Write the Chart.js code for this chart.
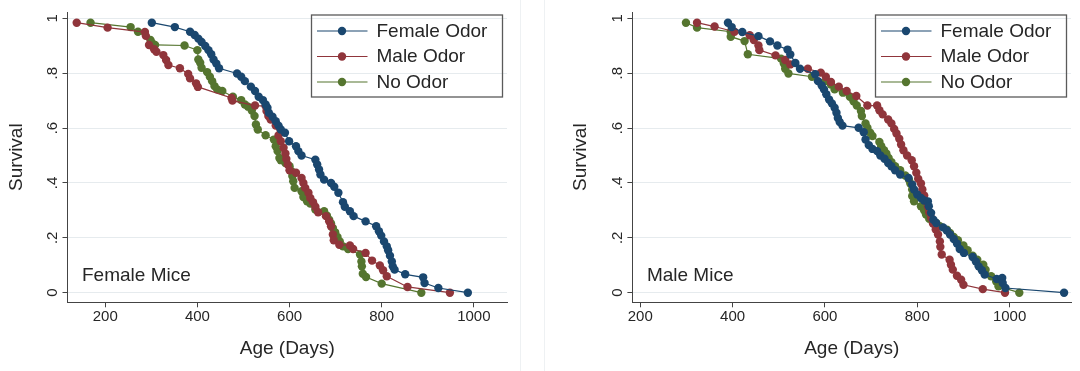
<!DOCTYPE html>
<html>
<head>
<meta charset="utf-8">
<script src="https://cdn.jsdelivr.net/npm/chart.js@4.4.1/dist/chart.umd.min.js"></script>
<style>
  body { margin: 0; background: #fff; }
  #wrap { position: relative; width: 1080px; height: 371px; overflow: hidden; }
  canvas { position: absolute; top: 0; }
  .sep { position: absolute; top: 0; width: 1px; height: 371px; background: #eef1f3; }
</style>
</head>
<body>
<div id="wrap">
  <canvas id="femaleMice" width="540" height="371" style="left:0"></canvas>
  <canvas id="maleMice" width="540" height="371" style="left:540px"></canvas>
  <div class="sep" style="left:520px"></div>
  <div class="sep" style="left:544px"></div>
</div>
<script>
// series names and colours (Stata s2color)
const seriesNames = ['Female Odor', 'Male Odor', 'No Odor'];
const seriesColors = ['#1a476f', '#90353b', '#55752f'];
const yTicks = [0, 0.2, 0.4, 0.6, 0.8, 1];

// Female mice: [age in days, survival]
const femFemaleOdor = [
  [301, .984], [351, .968], [384, .951], [394, .939], [402, .926], [409, .914], [417, .899],
  [424, .884], [430, .869], [435, .850], [441, .835], [447, .818], [486, .799], [495, .787],
  [503, .771], [516, .751], [525, .735], [533, .714], [542, .702], [548, .686], [552, .674],
  [555, .656], [563, .641], [570, .625], [576, .609], [581, .595], [590, .583], [599, .552],
  [614, .534], [619, .516], [626, .500], [656, .485], [660, .467], [664, .449], [667, .431],
  [675, .412], [690, .400], [697, .386], [706, .364], [716, .330], [720, .313], [731, .297],
  [739, .279], [765, .260], [788, .242], [794, .224], [799, .208], [805, .187], [811, .169],
  [814, .155], [818, .135], [822, .114], [824, .096], [828, .084], [851, .067], [890, .056],
  [893, .035], [923, .017], [987, 0]
];
const femMaleOdor = [
  [138, .984], [205, .966], [286, .950], [288, .936], [295, .903], [306, .887], [311, .878],
  [326, .866], [332, .848], [337, .830], [362, .818], [380, .797], [384, .781], [397, .763],
  [401, .750], [474, .710], [476, .700], [525, .682], [548, .680], [550, .662], [554, .644],
  [559, .631], [570, .609], [576, .573], [581, .552], [587, .528], [591, .507], [593, .487],
  [596, .467], [600, .446], [614, .437], [626, .418], [630, .400], [634, .382], [641, .364],
  [645, .345], [651, .330], [656, .313], [662, .293], [679, .279], [686, .260], [690, .242],
  [694, .212], [696, .191], [708, .175], [731, .172], [738, .159], [765, .145], [779, .117],
  [796, .099], [803, .082], [811, .060], [856, .021], [948, 0]
];
const femNoOdor = [
  [168, .984], [255, .968], [271, .951], [298, .921], [301, .911], [308, .903], [372, .901],
  [400, .884], [402, .850], [406, .838], [409, .820], [421, .804], [427, .787], [432, .771],
  [437, .753], [443, .741], [454, .735], [477, .714], [495, .702], [503, .686], [510, .678],
  [518, .664], [524, .644], [527, .613], [531, .595], [548, .574], [566, .558], [570, .534],
  [574, .516], [578, .491], [581, .483], [591, .473], [600, .461], [604, .443], [606, .425],
  [608, .406], [611, .382], [626, .370], [630, .349], [638, .333], [645, .325], [656, .303],
  [675, .297], [681, .281], [686, .266], [690, .252], [694, .236], [699, .220], [704, .203],
  [709, .187], [716, .169], [727, .159], [753, .139], [756, .114], [757, .096], [759, .069],
  [766, .057], [800, .033], [886, 0]
];

// Male mice: [age in days, survival]
const malFemaleOdor = [
  [390, .984], [398, .968], [421, .950], [456, .935], [481, .916], [497, .901], [519, .886],
  [525, .868], [536, .837], [546, .816], [579, .796], [585, .771], [593, .755], [598, .741],
  [603, .723], [609, .704], [615, .690], [621, .674], [625, .656], [628, .637], [632, .622],
  [638, .609], [673, .601], [684, .585], [688, .558], [695, .538], [703, .524], [713, .516],
  [720, .500], [729, .488], [737, .473], [744, .461], [752, .446], [763, .431], [781, .418],
  [789, .394], [793, .376], [800, .358], [808, .345], [815, .336], [823, .333], [825, .315],
  [830, .291], [835, .266], [841, .254], [856, .238], [864, .227], [871, .212], [879, .196],
  [886, .179], [892, .159], [901, .145], [920, .130], [927, .114], [933, .096], [940, .082],
  [946, .066], [972, .050], [984, .054], [985, .035], [991, .017], [1118, 0]
];
const malMaleOdor = [
  [323, .984], [361, .970], [404, .951], [437, .938], [446, .921], [456, .901], [458, .884],
  [493, .865], [514, .848], [525, .832], [563, .816], [591, .802], [602, .787], [613, .768],
  [630, .751], [647, .735], [668, .717], [692, .682], [713, .682], [718, .665], [725, .650],
  [737, .631], [744, .617], [750, .597], [755, .580], [761, .561], [765, .540], [770, .519],
  [778, .500], [788, .483], [793, .461], [798, .437], [802, .415], [808, .398], [811, .376],
  [815, .354], [819, .333], [823, .313], [826, .293], [830, .273], [834, .252], [840, .230],
  [845, .212], [849, .187], [850, .167], [853, .139], [870, .120], [873, .102], [877, .084],
  [886, .062], [895, .047], [900, .029], [942, .013], [990, 0]
];
const malNoOdor = [
  [299, .984], [323, .966], [396, .951], [396, .933], [426, .917], [433, .869], [505, .853],
  [511, .835], [514, .816], [521, .799], [572, .787], [602, .771], [613, .759], [621, .741],
  [639, .729], [654, .714], [662, .698], [669, .682], [678, .662], [680, .644], [688, .617],
  [692, .601], [698, .583], [703, .571], [718, .549], [722, .534], [728, .519], [733, .507],
  [738, .491], [744, .476], [752, .461], [763, .446], [774, .427], [782, .412], [785, .398],
  [789, .376], [789, .352], [793, .333], [808, .315], [815, .300], [819, .285], [826, .269],
  [841, .254], [849, .242], [864, .230], [871, .218], [879, .203], [888, .191], [900, .172],
  [909, .155], [920, .135], [930, .120], [943, .102], [948, .084], [960, .060], [971, .041],
  [976, .023], [1021, 0]
];

const fontFamily = '"Liberation Sans", Arial, sans-serif';
const textColor = '#262626';

// legend box and panel label, drawn inside the plot like Stata does
const stataExtras = {
  id: 'stataExtras',
  afterDraw(chart, args, opts) {
    const ctx = chart.ctx;
    const area = chart.chartArea;
    ctx.save();
    ctx.font = '19px ' + fontFamily;
    ctx.fillStyle = textColor;
    ctx.textBaseline = 'middle';
    ctx.textAlign = 'left';
    ctx.fillText(opts.label, area.left + 14.5, area.bottom - 26.5);

    const bw = 191, bh = 82;
    const bx = area.right - 4.5 - bw, by = area.top + 3;
    ctx.strokeStyle = '#5a5a5a';
    ctx.lineWidth = 1.3;
    ctx.strokeRect(bx, by, bw, bh);
    chart.data.datasets.forEach((ds, i) => {
      const y = by + 16 + i * 25.5;
      ctx.strokeStyle = ds.borderColor;
      ctx.lineWidth = 1.2;
      ctx.beginPath();
      ctx.moveTo(bx + 5.5, y);
      ctx.lineTo(bx + 56, y);
      ctx.stroke();
      ctx.fillStyle = ds.borderColor;
      ctx.beginPath();
      ctx.arc(bx + 30.5, y, 4.2, 0, Math.PI * 2);
      ctx.fill();
      ctx.fillStyle = textColor;
      ctx.fillText(ds.label, bx + 65, y + 0.5);
    });
    ctx.restore();
  }
};

function crearPanel(id, series, label, xMin, xMax, yAxisWidth, rightPad, yTitlePad) {
  const ctx = document.getElementById(id).getContext('2d');
  return new Chart(ctx, {
    type: 'line',
    data: {
      datasets: series.map((pts, i) => ({
        label: seriesNames[i],
        data: pts.map(p => ({ x: p[0], y: p[1] })),
        borderColor: seriesColors[i],
        backgroundColor: seriesColors[i],
        borderWidth: 1.2,
        pointRadius: 4.2,
        pointBorderWidth: 0,
        pointBackgroundColor: seriesColors[i],
        tension: 0,
        fill: false
      }))
    },
    options: {
      responsive: false,
      animation: false,
      devicePixelRatio: 1,
      layout: { padding: { top: 12, right: rightPad, left: 0, bottom: 0 } },
      plugins: {
        legend: { display: false },
        tooltip: { enabled: false },
        stataExtras: { label: label }
      },
      scales: {
        x: {
          type: 'linear',
          min: xMin,
          max: xMax,
          afterFit: s => { s.height = 68.7; },
          ticks: {
            stepSize: 200,
            includeBounds: false,
            color: textColor,
            padding: 1,
            font: { family: fontFamily, size: 15 },
            callback: v => String(v)
          },
          grid: { drawOnChartArea: false, drawTicks: true, tickLength: 5, tickColor: '#444' },
          border: { display: true, color: '#444', width: 1 },
          title: {
            display: true,
            text: 'Age (Days)',
            color: textColor,
            font: { family: fontFamily, size: 19 },
            padding: { top: 0, bottom: 10.6 }
          }
        },
        y: {
          type: 'linear',
          min: -0.035,
          max: 1.023,
          afterFit: s => { s.width = yAxisWidth; },
          afterBuildTicks: s => { s.ticks = yTicks.map(v => ({ value: v })); },
          ticks: {
            color: textColor,
            minRotation: 90,
            maxRotation: 90,
            crossAlign: 'center',
            padding: 3,
            font: { family: fontFamily, size: 15 },
            callback: v => {
              const r = Math.round(v * 10) / 10;
              return r === 0 ? '0' : r === 1 ? '1' : String(r).replace(/^0\./, '.');
            }
          },
          grid: { color: '#e6ebee', lineWidth: 1, drawTicks: true, tickLength: 5, tickColor: '#444' },
          border: { display: true, color: '#444', width: 1 },
          title: {
            display: true,
            text: 'Survival',
            color: textColor,
            font: { family: fontFamily, size: 19 },
            padding: { top: yTitlePad, bottom: 0 }
          }
        }
      }
    },
    plugins: [stataExtras]
  });
}

crearPanel('femaleMice', [femFemaleOdor, femMaleOdor, femNoOdor], 'Female Mice', 118, 1072, 67.5, 33, 5);
crearPanel('maleMice', [malFemaleOdor, malMaleOdor, malNoOdor], 'Male Mice', 183, 1133, 92.4, 9, 29.6);
</script>
</body>
</html>
